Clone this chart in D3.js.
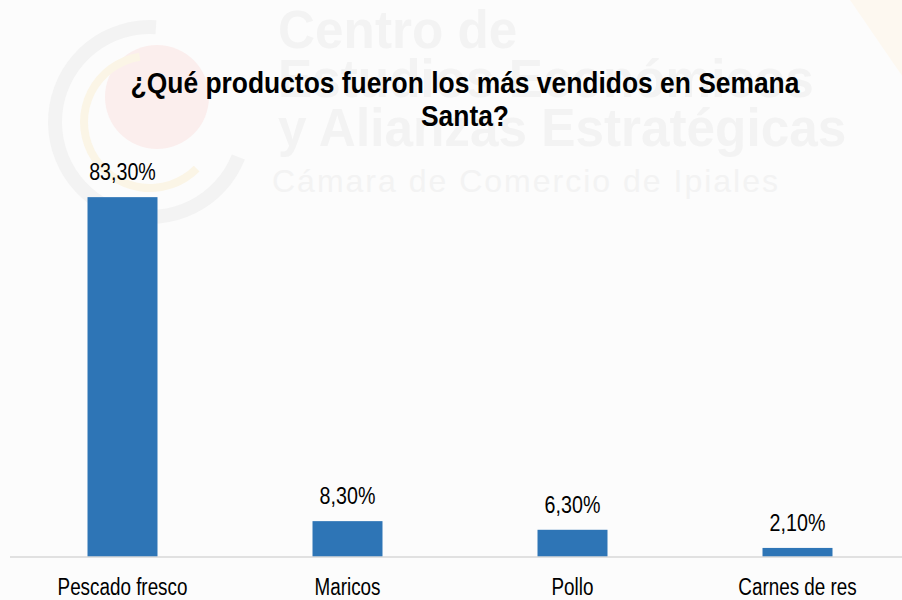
<!DOCTYPE html>
<html>
<head>
<meta charset="utf-8">
<script src="https://cdn.jsdelivr.net/npm/d3@7"></script>
<style>
  body { margin: 0; background: #fcfcfc; }
  svg text { font-family: "Liberation Sans", Arial, sans-serif; }
</style>
</head>
<body>
<div id="vis-container"></div>
<script>
let width = 902;
let height = 600;

const categories = ["Pescado fresco", "Maricos", "Pollo", "Carnes de res"];
const values = [83.3, 8.3, 6.3, 2.1];
const titleLines = ["¿Qué productos fueron los más vendidos en Semana", "Santa?"];
const watermarkLines = ["Centro de", "Estudios Económicos", "y Alianzas Estratégicas"];
const watermarkSub = "Cámara de Comercio de Ipiales";

// the reference uses a narrow font; squeeze Liberation Sans horizontally
const narrow = 0.82;

let svg = d3.select("#vis-container")
  .append("svg")
  .attr("width", width)
  .attr("height", height);

svg.append("rect").attr("width", width).attr("height", height).attr("fill", "#fcfcfc");

// faint watermark logo behind the chart
let wm = svg.append("g").attr("class", "watermark");
wm.append("path")
  .attr("d", "M 905 0 L 850 0 L 905 80 Z")
  .attr("fill", "#fdf8f0");
wm.append("circle").attr("cx", 157).attr("cy", 97).attr("r", 52)
  .attr("fill", "#fbeeed");
wm.append("path")
  .attr("transform", "translate(150,122)")
  .attr("d", d3.arc()({ innerRadius: 62, outerRadius: 70, startAngle: Math.PI * 0.75, endAngle: Math.PI * 1.95 }))
  .attr("fill", "#fbf5e6");
wm.append("path")
  .attr("transform", "translate(150,122)")
  .attr("d", d3.arc()({ innerRadius: 88, outerRadius: 102, startAngle: Math.PI * 0.62, endAngle: Math.PI * 2.02 }))
  .attr("fill", "#f3f3f3");
wm.selectAll("text.wm")
  .data(watermarkLines)
  .enter()
  .append("text")
  .attr("class", "wm")
  .attr("transform", (d, i) => "translate(278," + (48 + i * 49) + ") scale(0.95,1)")
  .attr("font-size", 54)
  .attr("font-weight", "bold")
  .attr("fill", "#f3f3f3")
  .text(d => d);
wm.append("text")
  .attr("x", 272)
  .attr("y", 192)
  .attr("font-size", 32)
  .style("letter-spacing", "2px")
  .attr("fill", "#f3f3f3")
  .text(watermarkSub);

// scales
let x = d3.scaleBand()
  .domain(categories)
  .range([10, 910])
  .paddingInner(0.689)
  .paddingOuter(0.3445);

let y = d3.scaleLinear()
  .domain([0, 100])
  .range([557, 125]);

const pct = d3.formatLocale({ decimal: ",", thousands: ".", grouping: [3], currency: ["", ""] }).format(".2f");

// title
svg.selectAll("text.title")
  .data(titleLines)
  .enter()
  .append("text")
  .attr("class", "title")
  .attr("transform", (d, i) => "translate(465," + (93 + i * 33) + ") scale(0.88,1)")
  .attr("text-anchor", "middle")
  .attr("font-size", 30)
  .attr("font-weight", "bold")
  .attr("fill", "#000")
  .text(d => d);

// bars
svg.selectAll("rect.bar")
  .data(values)
  .enter()
  .append("rect")
  .attr("class", "bar")
  .attr("x", (d, i) => x(categories[i]))
  .attr("y", d => y(d))
  .attr("width", x.bandwidth())
  .attr("height", d => y(0) - y(d))
  .attr("fill", "#2e75b6");

// value labels
svg.selectAll("text.val")
  .data(values)
  .enter()
  .append("text")
  .attr("class", "val")
  .attr("transform", (d, i) => "translate(" + (x(categories[i]) + x.bandwidth() / 2) + "," + (y(d) - 17) + ") scale(" + narrow + ",1)")
  .attr("text-anchor", "middle")
  .attr("font-size", 24)
  .attr("fill", "#000")
  .text(d => pct(d) + "%");

// axis
let axis = svg.append("g")
  .attr("transform", "translate(0," + y(0) + ")")
  .call(d3.axisBottom(x).tickSize(0).tickPadding(22));
axis.select(".domain").attr("stroke", "#d9d9d9").attr("stroke-width", 1.5).attr("d", "M10,0H902");
axis.selectAll(".tick text")
  .attr("font-size", 23)
  .attr("fill", "#000")
  .attr("transform", "scale(" + narrow + ",1)")
  .style("font-family", "'Liberation Sans', Arial, sans-serif");
</script>
</body>
</html>
